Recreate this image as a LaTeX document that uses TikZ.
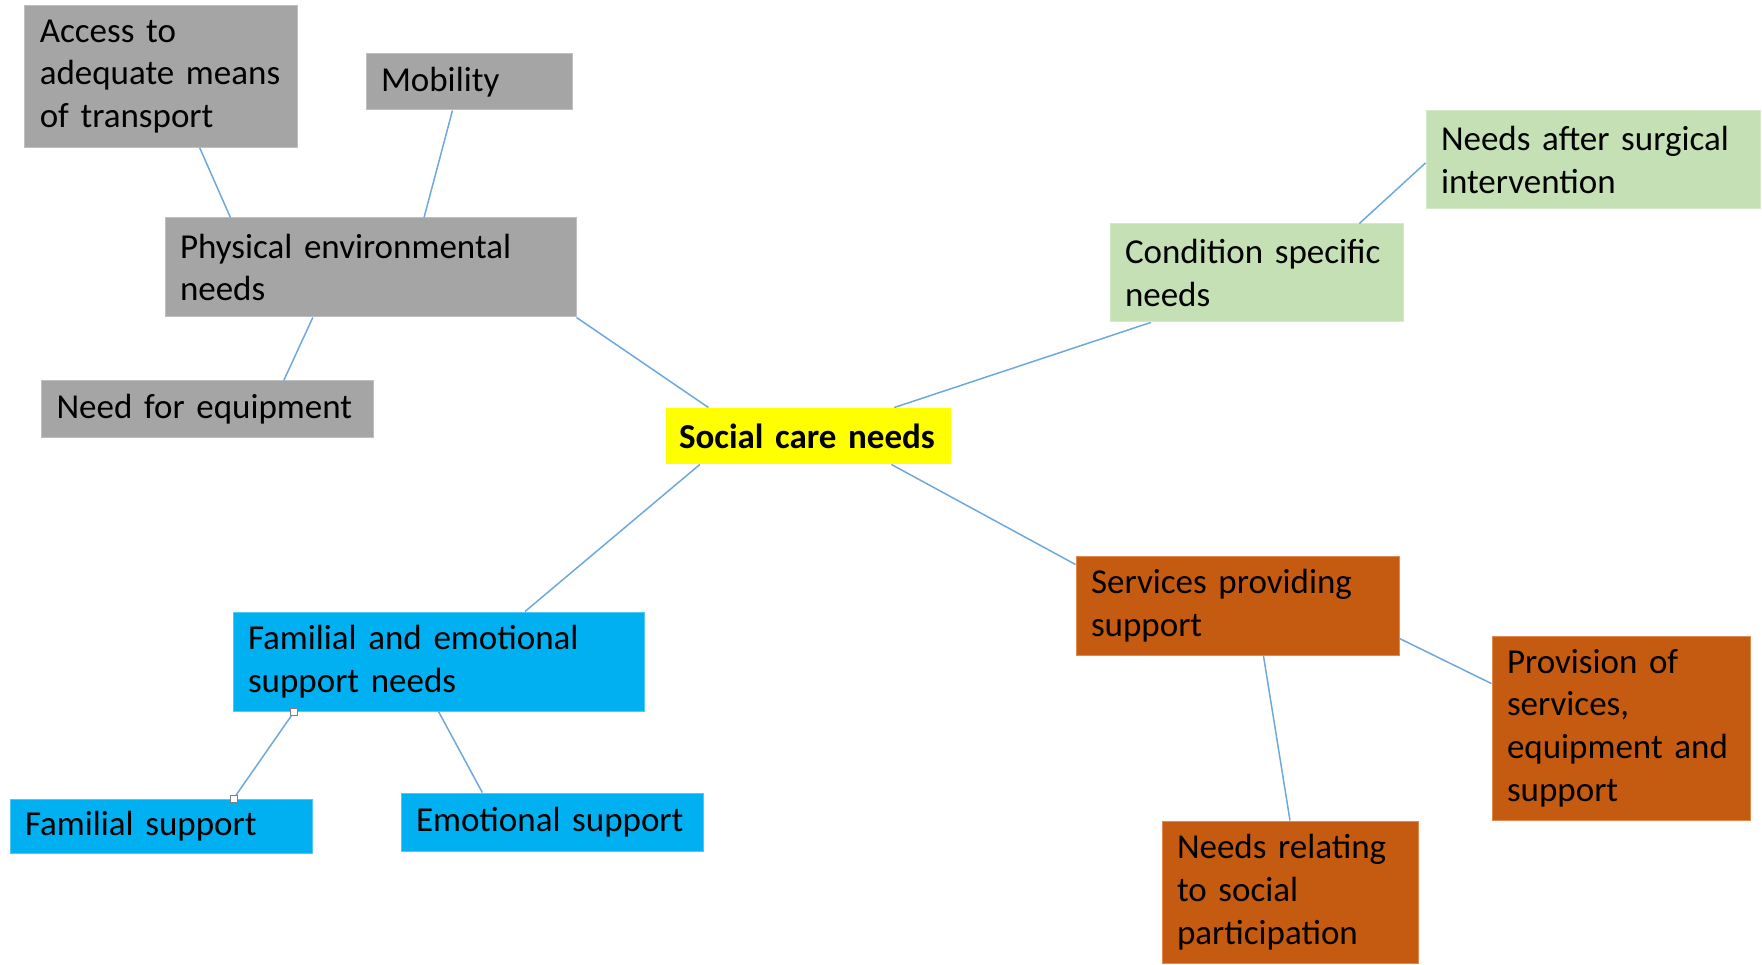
\documentclass[tikz,border=0pt]{standalone}
\usepackage{fontspec}
\setmainfont{Carlito}
\usetikzlibrary{calc}
\definecolor{cgray}{HTML}{A5A5A5}
\definecolor{cgrayb}{HTML}{BFBFBF}
\definecolor{cyel}{HTML}{FFFF00}
\definecolor{cgreen}{HTML}{C5E0B4}
\definecolor{cgreenb}{HTML}{D5E8C8}
\definecolor{cblue}{HTML}{00B0F0}
\definecolor{cblueb}{HTML}{4FC8F5}
\definecolor{corange}{HTML}{C55A11}
\definecolor{corangeb}{HTML}{E08A50}
\definecolor{cline}{HTML}{6FA8DC}
\tikzset{
  box/.style={rectangle, inner xsep=15pt, inner ysep=0pt, align=left,
    font=\fontsize{35}{42.7}\selectfont, line width=1pt},
  graybox/.style={box, fill=cgray, draw=cgrayb},
  greenbox/.style={box, fill=cgreen, draw=cgreenb},
  bluebox/.style={box, fill=cblue, draw=cblueb},
  orangebox/.style={box, fill=corange, draw=corangeb},
  link/.style={draw=cline, line width=1.5pt},
  handle/.style={rectangle, draw=gray, fill=white, line width=0.8pt, minimum size=7pt, inner sep=0pt}
}
\newcommand{\bx}[6]{\node[#1, minimum width=#4pt, minimum height=#5pt, text width=#4pt-30pt] (#2) at (#3) {#6};}
\begin{document}
\begin{tikzpicture}[x=1pt,y=-1pt]
\useasboundingbox (0,0) rectangle (1762,965);
% nodes
\bx{graybox}{acc}{161.3,76.4}{273}{141.6}{Access to\\adequate means\\of transport}
\bx{graybox}{mob}{469,82}{206}{56}{Mobility}
\bx{graybox}{phys}{370.5,267.5}{411}{99}{Physical environmental\\needs}
\bx{graybox}{equip}{207.3,409.5}{331.4}{57}{Need for equipment}
\node[box, fill=cyel, minimum width=285pt, minimum height=56pt, text width=259pt, inner xsep=13pt,
  font=\fontsize{35}{42.7}\selectfont\bfseries] (soc) at (808.5,436) {Social care needs};
\bx{greenbox}{cond}{1256.5,273}{293}{98}{Condition specific\\needs}
\bx{greenbox}{surg}{1593,160}{334}{98}{Needs after surgical\\intervention}
\bx{orangebox}{serv}{1237.5,605.5}{323}{99}{Services providing\\support}
\bx{orangebox}{prov}{1621,728}{258}{184}{Provision of\\services,\\equipment and\\support}
\bx{orangebox}{rel}{1290,892}{256}{142}{Needs relating\\to social\\participation}
\bx{bluebox}{fam}{438.5,661.5}{411}{99}{Familial and emotional\\support needs}
\bx{bluebox}{fsup}{161,826}{302}{54}{Familial support}
\bx{bluebox}{esup}{552,822}{302}{58}{Emotional support}
% connectors
\draw[link] ($(acc.south west)!0.64!(acc.south east)$) -- ($(phys.north west)!0.16!(phys.north east)$);
\draw[link] ($(mob.south west)!0.42!(mob.south east)$) -- ($(phys.north west)!0.63!(phys.north east)$);
\draw[link] ($(phys.south west)!0.36!(phys.south east)$) -- ($(equip.north west)!0.73!(equip.north east)$);
\draw[link] (phys.south east) -- ($(soc.north west)!0.15!(soc.north east)$);
\draw[link] ($(soc.north west)!0.80!(soc.north east)$) -- ($(cond.south west)!0.14!(cond.south east)$);
\draw[link] ($(cond.north west)!0.85!(cond.north east)$) -- ($(surg.north west)!0.53!(surg.south west)$);
\draw[link] ($(soc.south west)!0.79!(soc.south east)$) -- ($(serv.north west)!0.09!(serv.south west)$);
\draw[link] ($(serv.north east)!0.83!(serv.south east)$) -- ($(prov.north west)!0.26!(prov.south west)$);
\draw[link] ($(serv.south west)!0.58!(serv.south east)$) -- ($(rel.north west)!0.50!(rel.north east)$);
\draw[link] ($(soc.south west)!0.12!(soc.south east)$) -- ($(fam.north west)!0.71!(fam.north east)$);
\coordinate (h1) at ($(fam.south west)!0.15!(fam.south east)$);
\coordinate (h2) at ($(fsup.north west)!0.74!(fsup.north east)$);
\draw[link] (h1) -- (h2);
\node[handle] (h1b) at (h1) {};
\node[handle] (h2b) at (h2) {};
\draw[link] ($(fam.south west)!0.50!(fam.south east)$) -- ($(esup.north west)!0.27!(esup.north east)$);
\end{tikzpicture}
\end{document}
